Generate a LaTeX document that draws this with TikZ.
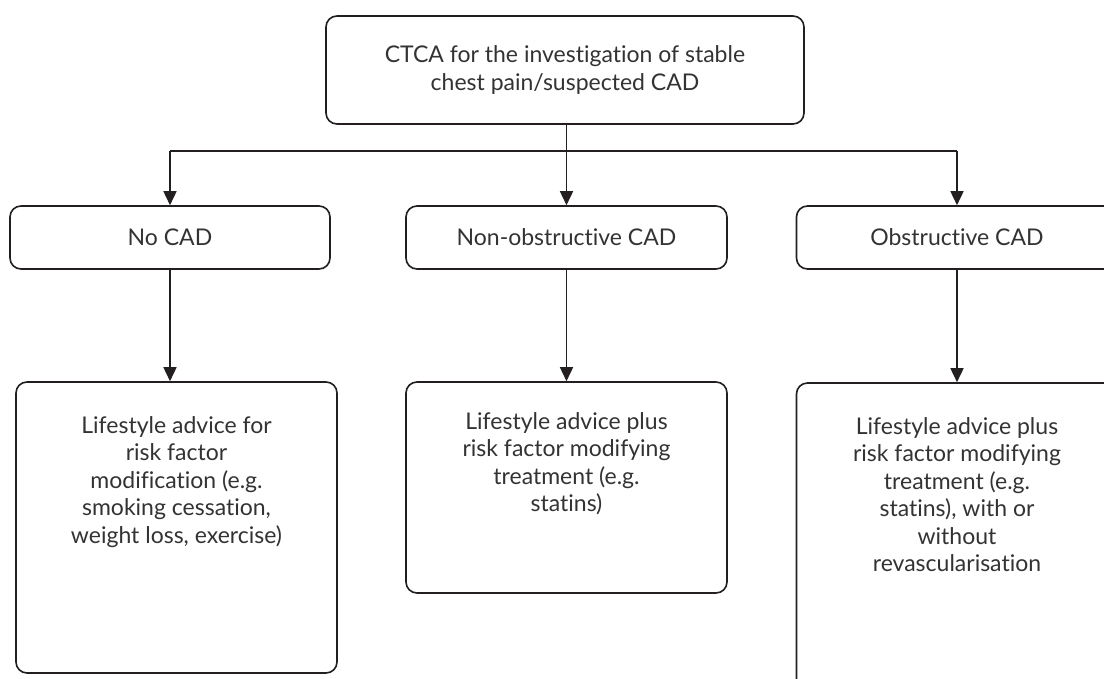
\documentclass[tikz,border=0pt]{standalone}
\usepackage{fontspec}
\setmainfont{Lato}[Ligatures=NoCommon]
\usetikzlibrary{arrows.meta,positioning}
\definecolor{ink}{HTML}{231F20}
\definecolor{txtgrey}{HTML}{333333}

\begin{document}
\begin{tikzpicture}[x=1pt,y=-1pt,
  box/.style={draw=ink,line width=1.6pt,rounded corners=11pt,inner sep=0pt,
    align=center,text=txtgrey,font=\fontsize{23}{27.5}\selectfont},
  txt/.style={align=center,inner sep=0pt,text=txtgrey,font=\fontsize{23}{27.5}\selectfont},
  line/.style={ink,line width=1.6pt},
  link/.style={line,-{Triangle[width=13pt,length=14pt]}}]
  \clip (0,0) rectangle (1104,678);
  \fill[white] (0,0) rectangle (1104,678);
  \node[box,minimum width=478pt,minimum height=108pt] (ctca) at (565,70)
    {CTCA for the investigation of stable\\chest pain/suspected CAD};
  \node[box,minimum width=320pt,minimum height=63pt] (nocad) at (170,237.5) {No CAD};
  \node[box,minimum width=321pt,minimum height=63pt] (nonobs) at (566.5,237.5) {Non-obstructive CAD};
  \node[box,minimum width=321pt,minimum height=63pt] (obs) at (957,237.5) {Obstructive CAD};
  \node[box,minimum width=321pt,minimum height=291pt] (life1) at (176.5,527.5) {};
  \node[box,minimum width=321pt,minimum height=211pt] (life2) at (566.5,487.5) {};
  \node[box,minimum width=321pt,minimum height=326pt] (life3) at (957,546) {};
  \node[txt,anchor=north] (life1txt) at ([yshift=-35pt]life1.north)
    {Lifestyle advice for\\risk factor\\modification (e.g.\\smoking cessation,\\weight loss, exercise)};
  \node[txt,anchor=north] (life2txt) at ([yshift=-31pt]life2.north)
    {Lifestyle advice plus\\risk factor modifying\\treatment (e.g.\\statins)};
  \node[txt,anchor=north] (life3txt) at ([yshift=-35pt]life3.north)
    {Lifestyle advice plus\\risk factor modifying\\treatment (e.g.\\statins), with or\\without\\revascularisation};
  \coordinate (bar) at (0,151);
  \draw[line] (ctca.south -| nonobs.north) -- (nonobs.north |- bar);
  \draw[line] (nocad.north |- bar) -- (obs.north |- bar);
  \foreach \a/\b in {nocad/life1,nonobs/life2,obs/life3} {
    \draw[link] (\a.north |- bar) -- (\a.north);
    \draw[link] (\a.south) -- (\a.south |- \b.north);
  }
\end{tikzpicture}
\end{document}
